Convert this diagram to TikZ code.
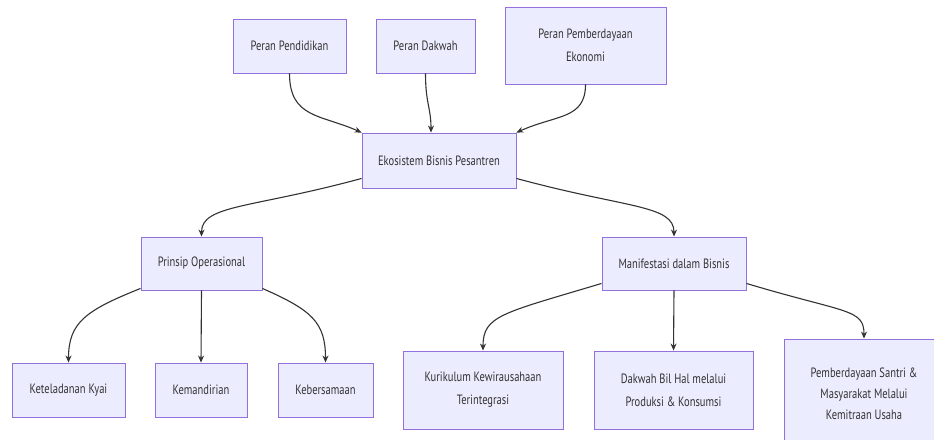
\documentclass[tikz,border=0pt]{standalone}
\usepackage{fontspec}
\setmainfont[FakeStretch=0.78]{PT Sans}
\usetikzlibrary{arrows.meta}
\definecolor{boxfill}{HTML}{ECECFF}
\definecolor{boxline}{HTML}{9370DB}
\definecolor{ink}{HTML}{333333}
\tikzset{
  box/.style={draw=boxline, fill=boxfill, line width=0.9pt, align=center,
    text=ink, font=\fontsize{13.5}{23}\selectfont, inner sep=0pt},
  edge/.style={draw=ink, line width=1.1pt, -{Stealth[length=7pt,width=6pt]}}
}
\begin{document}
\begin{tikzpicture}[x=1pt,y=-1pt]
\useasboundingbox (0,0) rectangle (934,439);
\clip (0,0) rectangle (934,439);
\fill[white] (0,0) rectangle (934,439);
\node[box, minimum width=113pt, minimum height=54pt] (pend) at (289.5,46) {Peran Pendidikan};
\node[box, minimum width=99pt, minimum height=54pt] (dak) at (425.5,46) {Peran Dakwah};
\node[box, minimum width=161pt, minimum height=77pt] (ekon) at (585.5,45.5) {Peran Pemberdayaan\\Ekonomi};
\node[box, minimum width=154pt, minimum height=55pt] (eko) at (439,160.5) {Ekosistem Bisnis Pesantren};
\node[box, minimum width=121pt, minimum height=53pt] (prin) at (201.5,263.5) {Prinsip Operasional};
\node[box, minimum width=113pt, minimum height=54pt] (ket) at (68.5,390) {Keteladanan Kyai};
\node[box, minimum width=92pt, minimum height=54pt] (kem) at (201,390) {Kemandirian};
\node[box, minimum width=95pt, minimum height=54pt] (keb) at (325.5,390) {Kebersamaan};
\node[box, minimum width=144pt, minimum height=53pt] (man) at (674,263.5) {Manifestasi dalam Bisnis};
\node[box, minimum width=160pt, minimum height=78pt] (kur) at (483,390) {Kurikulum Kewirausahaan\\Terintegrasi};
\node[box, minimum width=159pt, minimum height=78pt] (dbh) at (673.5,390) {Dakwah Bil Hal melalui\\Produksi \& Konsumsi};
\node[box, minimum width=160pt, minimum height=110pt, font=\fontsize{13.5}{21}\selectfont] (pst) at (864,394) {Pemberdayaan Santri \&\\Masyarakat Melalui\\Kemitraan Usaha};
% top edges
\draw[edge] (pend.south) .. controls +(0,45) and +(-40,-18) .. (eko.north west);
\draw[edge] (dak.south) .. controls +(0,30) and +(0,-25) .. ([xshift=-8pt]eko.north);
\draw[edge] (ekon.south) .. controls +(0,35) and +(40,-18) .. (eko.north east);
% from eko
\draw[edge] ([yshift=10pt]eko.south west) .. controls +(-110,30) and +(0,-32) .. (prin.north);
\draw[edge] ([yshift=10pt]eko.south east) .. controls +(110,30) and +(0,-32) .. (man.north);
% from prinsip
\draw[edge] ([yshift=2pt]prin.south west) .. controls +(-55,22) and +(0,-40) .. (ket.north);
\draw[edge] (prin.south) -- (kem.north);
\draw[edge] ([yshift=2pt]prin.south east) .. controls +(50,22) and +(0,-40) .. (keb.north);
% from manifestasi
\draw[edge] ([yshift=7pt]man.south west) .. controls +(-100,30) and +(0,-35) .. (kur.north);
\draw[edge] (man.south) -- (dbh.north);
\draw[edge] ([yshift=7pt]man.south east) .. controls +(100,30) and +(0,-30) .. (pst.north);
\end{tikzpicture}
\end{document}
